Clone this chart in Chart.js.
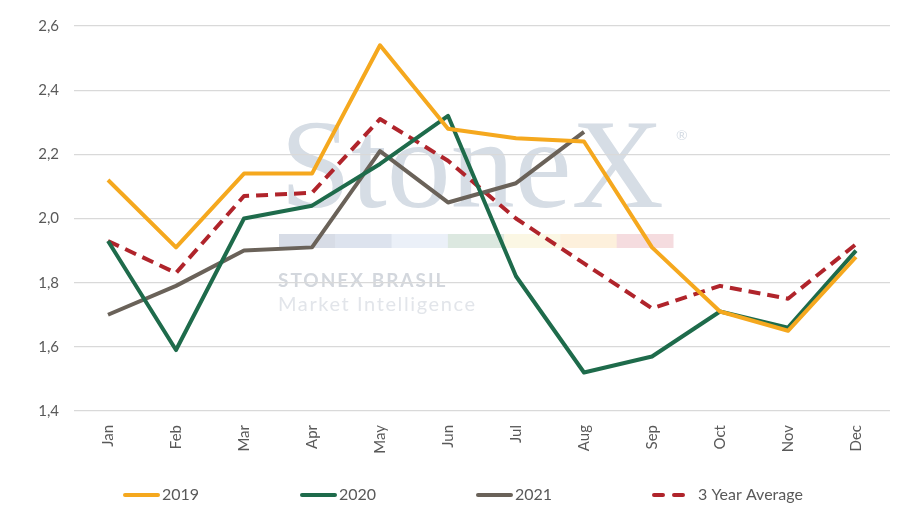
<!DOCTYPE html>
<html>
<head>
<meta charset="utf-8">
<script src="https://cdn.jsdelivr.net/npm/chart.js@4.4.1/dist/chart.umd.min.js"></script>
<style>
  html, body { margin: 0; padding: 0; background: #fff; }
  #wrap { width: 918px; height: 529px; }
</style>
</head>
<body>
<div id="wrap"><canvas id="myChart" width="918" height="529"></canvas></div>
<script>
// months on the x axis
const months = ["Jan", "Feb", "Mar", "Apr", "May", "Jun", "Jul", "Aug", "Sep", "Oct", "Nov", "Dec"];

// values
const values2019 = [2.12, 1.91, 2.14, 2.14, 2.54, 2.28, 2.25, 2.24, 1.91, 1.71, 1.65, 1.88];
const values2020 = [1.93, 1.59, 2.00, 2.04, 2.17, 2.32, 1.82, 1.52, 1.57, 1.71, 1.66, 1.90];
const values2021 = [1.70, 1.79, 1.90, 1.91, 2.21, 2.05, 2.11, 2.27, null, null, null, null];
const valuesAvg  = [1.93, 1.83, 2.07, 2.08, 2.31, 2.18, 2.00, 1.86, 1.72, 1.79, 1.75, 1.92];

// y axis ticks
const yTicks = [1.4, 1.6, 1.8, 2.0, 2.2, 2.4, 2.6];

const textColour = "#595959";
const fontFamily = "Lato, 'Noto Sans', sans-serif";

// faint StoneX logo, drawn before the grid
const watermark = {
	id: "watermark",
	beforeDraw(chart) {
		const ctx = chart.ctx;
		ctx.save();
		ctx.fillStyle = "#D6DDE5";
		ctx.font = "128px 'Liberation Serif', 'DejaVu Serif', serif";
		ctx.textBaseline = "alphabetic";
		ctx.textAlign = "left";
		ctx.fillText("StoneX", 280, 207, 390);
		ctx.font = "14px " + fontFamily;
		ctx.fillText("®", 676, 140);

		const bars = ["#D7DCE6", "#DDE3EE", "#EBF0F8", "#DCE8E0", "#FBF7E4", "#FDF0DC", "#F5DCDF"];
		const w = (673 - 279) / bars.length;
		bars.forEach((c, i) => {
			ctx.fillStyle = c;
			ctx.fillRect(279 + i * w, 234, w + 0.5, 14);
		});

		ctx.fillStyle = "#D3D7DD";
		ctx.font = "bold 19px " + fontFamily;
		ctx.letterSpacing = "2px";
		ctx.fillText("STONEX BRASIL", 278, 287);
		ctx.fillStyle = "#E2E5EA";
		ctx.font = "20px " + fontFamily;
		ctx.letterSpacing = "1.6px";
		ctx.fillText("Market Intelligence", 278, 311);
		ctx.restore();
	}
};

// legend spread across the bottom like the original, drawn from the datasets
const spreadLegend = {
	id: "spreadLegend",
	afterDraw(chart) {
		const ctx = chart.ctx;
		const starts = [123, 300, 476, 652];
		const y = 495;
		ctx.save();
		chart.data.datasets.forEach((ds, i) => {
			const x = starts[i];
			ctx.strokeStyle = ds.borderColor;
			ctx.lineWidth = 4;
			ctx.lineCap = "round";
			ctx.setLineDash(ds.borderDash ? [9, 11] : []);
			ctx.beginPath();
			ctx.moveTo(x + 2, y);
			ctx.lineTo(x + 35, y);
			ctx.stroke();
			ctx.setLineDash([]);
			ctx.fillStyle = textColour;
			ctx.font = "16px " + fontFamily;
			ctx.textBaseline = "middle";
			ctx.fillText(ds.label, x + (ds.borderDash ? 46 : 39), y);
		});
		ctx.restore();
	}
};

const ctx = document.getElementById("myChart").getContext("2d");

new Chart(ctx, {
	type: "line",
	data: {
		labels: months,
		datasets: [
			{ label: "2019", data: values2019, borderColor: "#F5A81E", borderWidth: 4 },
			{ label: "2020", data: values2020, borderColor: "#1E6B4B", borderWidth: 4 },
			{ label: "2021", data: values2021, borderColor: "#6A6259", borderWidth: 4 },
			{ label: "3 Year Average", data: valuesAvg, borderColor: "#B0242B", borderWidth: 4, borderDash: [12, 7] }
		]
	},
	options: {
		responsive: false,
		animation: false,
		elements: {
			point: { radius: 0 },
			line: { tension: 0, borderJoinStyle: "round" }
		},
		layout: { padding: { left: 0, right: 28, top: 26, bottom: 68 } },
		plugins: {
			legend: { display: false },
			tooltip: { enabled: false }
		},
		scales: {
			x: {
				offset: true,
				grid: { display: false },
				border: { display: false },
				ticks: {
					color: textColour,
					font: { family: fontFamily, size: 15 },
					minRotation: 90,
					maxRotation: 90,
					padding: 6
				},
				afterFit: (scale) => { scale.height = 50; }
			},
			y: {
				min: 1.4,
				max: 2.6,
				afterBuildTicks: (scale) => { scale.ticks = yTicks.map(v => ({ value: v })); },
				grid: { color: "#D9D9D9", lineWidth: 1.3, drawTicks: false },
				border: { display: false },
				ticks: {
					color: textColour,
					font: { family: fontFamily, size: 15 },
					padding: 15,
					callback: (value) => value.toFixed(1).replace(".", ",")
				},
				afterFit: (scale) => { scale.width = 74; }
			}
		}
	},
	plugins: [watermark, spreadLegend]
});
</script>
</body>
</html>
